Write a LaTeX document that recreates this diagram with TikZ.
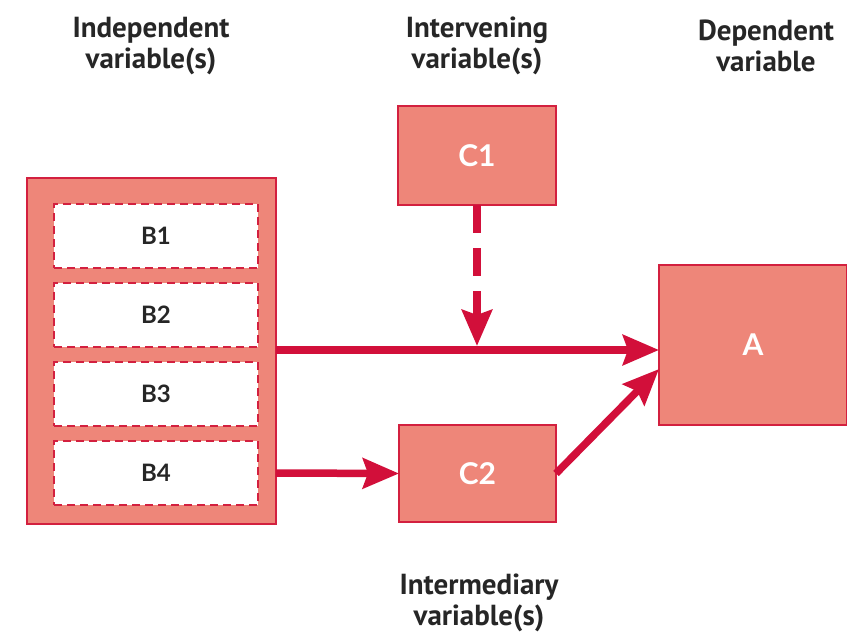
\documentclass[tikz,border=0pt]{standalone}
\usepackage{fontspec}
\setmainfont{PT Sans}
\newfontfamily\boxfont{Lato}
\usetikzlibrary{arrows.meta,calc}
\definecolor{salmon}{HTML}{EE8679}
\definecolor{crim}{HTML}{D3203F}
\definecolor{arrowred}{HTML}{D20F3A}
\definecolor{ink}{HTML}{262626}
\begin{document}
\begin{tikzpicture}[x=1pt,y=-1pt,
  heading/.style={font=\fontsize{29}{31}\selectfont\bfseries, text=ink, align=center},
  bigbox/.style={draw=crim, line width=2pt, fill=salmon, inner sep=0pt, outer sep=0pt},
  cbox/.style={bigbox, text=white, font=\boxfont\fontsize{30}{34}\selectfont\bfseries},
  bbox/.style={draw=crim, line width=2pt, dash pattern=on 8pt off 5pt, fill=white,
     minimum width=204pt, minimum height=64pt, inner sep=0pt,
     font=\boxfont\fontsize{24}{28}\selectfont\bfseries, text=ink},
  conn/.style={draw=arrowred, line width=7.5pt, -{Stealth[length=36pt,width=30pt,inset=5pt]}},
  dconn/.style={conn, dash pattern=on 28pt off 15pt}
]
\path[use as bounding box] (0,0) rectangle (847,634);

\node[heading] (h1) at (151,46) {Independent\\variable(s)};
\node[heading] (h2) at (477,46) {Intervening\\variable(s)};
\node[heading] (h3) at (766,46) {Dependent\\variable};
\node[heading] (h4) at (479,603) {Intermediary\\variable(s)};

\node[bigbox, minimum width=249pt, minimum height=346pt] (outer) at (151.5,351) {};
\node[bbox] (B1) at (156,236) {B1};
\node[bbox] (B2) at (156,314.5) {B2};
\node[bbox] (B3) at (156,394) {B3};
\node[bbox] (B4) at (156,473) {B4};

\node[cbox, minimum width=158pt, minimum height=99pt] (C1) at (477,155.5) {C1};
\node[cbox, minimum width=157pt, minimum height=97pt] (C2) at (477.5,473.5) {C2};
\node[cbox, minimum width=188pt, minimum height=160pt] (A) at (753,345) {A};

\coordinate (Alow) at ($(A.west)+(0,24)$);
\coordinate (Aup) at ($(A.west)+(0,5)$);
\coordinate (outA) at (outer.east |- Aup);
\coordinate (hit) at (C1.south |- Aup);

\draw[conn] (outA) -- (Aup);
\draw[conn] (outer.east |- B4) -- (C2.west);
\draw[conn] (C2.east) -- (Alow);
\draw[dconn, shorten >=4pt] (C1.south) -- (hit);
\end{tikzpicture}
\end{document}
